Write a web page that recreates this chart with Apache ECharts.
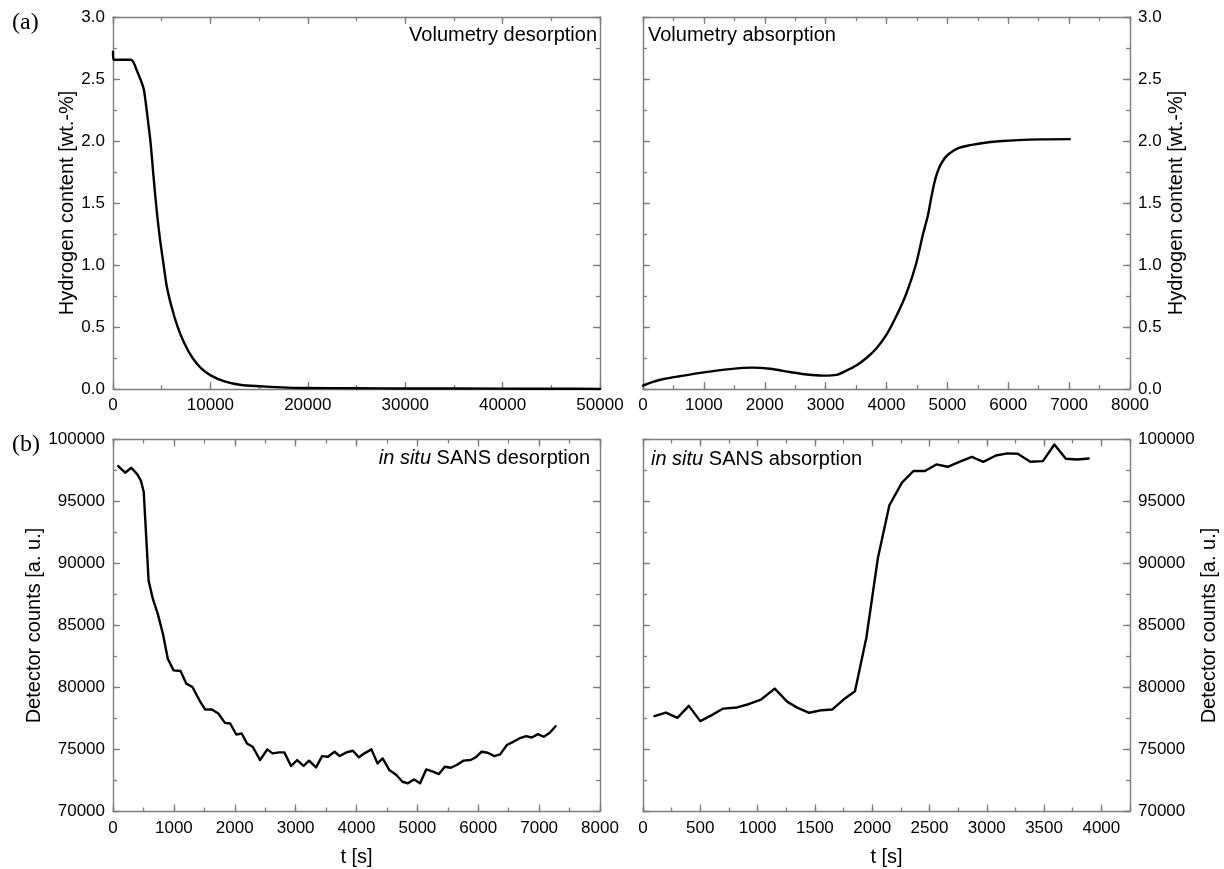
<!DOCTYPE html>
<html>
<head>
<meta charset="utf-8">
<script src="https://cdn.jsdelivr.net/npm/echarts@6/dist/echarts.min.js"></script>
<style>
  html, body { margin: 0; padding: 0; background: #fff; }
  #chart { width: 1224px; height: 869px; }
</style>
</head>
<body>
<div id="chart"></div>
<script>
// ---- (a) volumetric hydrogen content, desorption (t in s, wt.-%)
const volDesT = [0, 40, 500, 1000, 1500, 1860, 2140, 2480, 2900, 3170, 3410, 3620, 3860, 4070, 4280, 4550, 4830, 5170, 5520, 6000, 6620, 7310, 8170, 9030, 10070, 11450, 13170, 15070, 17310, 19380, 25000, 30000, 40000, 45000, 50000];
const volDesH = [2.72, 2.655, 2.655, 2.655, 2.655, 2.655, 2.629, 2.562, 2.481, 2.414, 2.28, 2.145, 1.984, 1.796, 1.608, 1.392, 1.204, 1.016, 0.828, 0.667, 0.505, 0.371, 0.25, 0.169, 0.108, 0.062, 0.032, 0.022, 0.013, 0.008, 0.006, 0.004, 0.003, 0.002, 0.001];

// ---- (a) volumetric hydrogen content, absorption
const volAbsT = [0, 150, 340, 600, 1000, 1430, 1790, 2090, 2410, 2690, 2960, 3180, 3340, 3510, 3670, 3840, 4000, 4160, 4330, 4490, 4600, 4680, 4730, 4780, 4830, 4900, 5000, 5190, 5510, 5900, 6540, 7010];
const volAbsH = [0.027, 0.055, 0.081, 0.103, 0.134, 0.160, 0.172, 0.163, 0.137, 0.117, 0.108, 0.114, 0.148, 0.192, 0.25, 0.331, 0.438, 0.586, 0.774, 1.016, 1.25, 1.40, 1.53, 1.65, 1.74, 1.82, 1.885, 1.945, 1.978, 2.0, 2.013, 2.015];

// ---- (b) in situ SANS detector counts, desorption
const sansDesT = [85, 200, 300, 400, 460, 505, 585, 655, 735, 820, 900, 995, 1110, 1205, 1305, 1420, 1515, 1625, 1730, 1840, 1925, 2025, 2115, 2200, 2295, 2415, 2535, 2620, 2730, 2815, 2925, 3025, 3130, 3220, 3335, 3435, 3530, 3640, 3725, 3835, 3940, 4040, 4130, 4245, 4345, 4430, 4540, 4655, 4755, 4845, 4945, 5045, 5145, 5255, 5355, 5450, 5550, 5645, 5755, 5875, 5960, 6055, 6155, 6265, 6360, 6470, 6575, 6675, 6785, 6880, 6980, 7075, 7175, 7270];
const sansDesC = [97860, 97320, 97720, 97190, 96650, 95770, 88620, 87140, 85940, 84330, 82320, 81380, 81330, 80310, 80040, 78970, 78220, 78220, 77900, 77150, 77100, 76210, 76290, 75490, 75220, 74150, 75010, 74690, 74770, 74770, 73670, 74150, 73670, 74100, 73560, 74470, 74420, 74820, 74470, 74770, 74900, 74370, 74690, 75010, 73880, 74280, 73340, 72940, 72400, 72270, 72590, 72270, 73390, 73210, 73020, 73610, 73530, 73750, 74100, 74150, 74370, 74820, 74740, 74470, 74610, 75360, 75620, 75890, 76080, 75970, 76240, 76030, 76350, 76880];

// ---- (b) in situ SANS detector counts, absorption
const sansAbsT = [100, 200, 300, 400, 500, 600, 700, 820, 920, 1030, 1150, 1260, 1350, 1450, 1560, 1650, 1750, 1850, 1950, 2050, 2150, 2260, 2360, 2460, 2560, 2660, 2760, 2870, 2970, 3080, 3180, 3270, 3380, 3490, 3590, 3690, 3790, 3890];
const sansAbsC = [77690, 77980, 77550, 78520, 77290, 77770, 78300, 78390, 78650, 79030, 79910, 78840, 78360, 77960, 78170, 78220, 79030, 79700, 84060, 90440, 94700, 96520, 97460, 97460, 97990, 97800, 98200, 98600, 98200, 98710, 98880, 98850, 98200, 98260, 99600, 98450, 98390, 98470];

// ---- tick labels
const volDesXTicks = [0, 10000, 20000, 30000, 40000, 50000];
const volAbsXTicks = [0, 1000, 2000, 3000, 4000, 5000, 6000, 7000, 8000];
const sansDesXTicks = [0, 1000, 2000, 3000, 4000, 5000, 6000, 7000, 8000];
const sansAbsXTicks = [0, 500, 1000, 1500, 2000, 2500, 3000, 3500, 4000];
const hydrogenTicks = [0.0, 0.5, 1.0, 1.5, 2.0, 2.5, 3.0];
const countTicks = [70000, 75000, 80000, 85000, 90000, 95000, 100000];

// axis ranges (the SANS absorption time axis runs past its last label)
const volDesXRange = [0, 50000];
const volAbsXRange = [0, 8000];
const sansDesXRange = [0, 8000];
const sansAbsXRange = [0, 4250];
const hydrogenRange = [0, 3];
const countRange = [70000, 100000];

const FONT = '"Liberation Sans", Arial, Helvetica, sans-serif';
const FRAME = '#7d7d7d';
const INK = '#000';

const panels = [
  { grid: { left: 113, top: 17, width: 487, height: 372 },
    xT: volDesXTicks, xR: volDesXRange, yT: hydrogenTicks, yR: hydrogenRange,
    side: 'left', yName: 'Hydrogen content [wt.-%]', yGap: 35, xName: null, dec: 1,
    t: volDesT, v: volDesH, smooth: true },
  { grid: { left: 643, top: 17, width: 487, height: 372 },
    xT: volAbsXTicks, xR: volAbsXRange, yT: hydrogenTicks, yR: hydrogenRange,
    side: 'right', yName: 'Hydrogen content [wt.-%]', yGap: 36, xName: null, dec: 1,
    t: volAbsT, v: volAbsH, smooth: true },
  { grid: { left: 113, top: 439.5, width: 487, height: 372 },
    xT: sansDesXTicks, xR: sansDesXRange, yT: countTicks, yR: countRange,
    side: 'left', yName: 'Detector counts [a. u.]', yGap: 68, xName: 't [s]', dec: 0,
    t: sansDesT, v: sansDesC, smooth: false },
  { grid: { left: 643, top: 439.5, width: 487, height: 372 },
    xT: sansAbsXTicks, xR: sansAbsXRange, yT: countTicks, yR: countRange,
    side: 'right', yName: 'Detector counts [a. u.]', yGap: 69, xName: 't [s]', dec: 0,
    t: sansAbsT, v: sansAbsC, smooth: false }
];

function isTick(ticks, v) {
  return ticks.some(function (k) { return Math.abs(k - v) < 1e-6; });
}

// one axis of a framed panel: major ticks (optionally labelled) or the minor-tick companion
function makeAxis(gi, position, range, ticks, opt) {
  const major = ticks[1] - ticks[0];
  const isMinor = !!opt.minor;
  return {
    type: 'value',
    gridIndex: gi,
    position: position,
    min: range[0],
    max: range[1],
    interval: isMinor ? major / 2 : major,
    scale: true,
    splitLine: { show: false },
    axisLine: { show: !isMinor, onZero: false, lineStyle: { color: FRAME, width: 1.4 } },
    axisTick: { show: true, inside: true, length: isMinor ? 4 : 7,
                lineStyle: { color: FRAME, width: 1.3 } },
    minorTick: { show: false },
    axisLabel: {
      show: !!opt.labels,
      margin: 8,
      color: INK,
      fontFamily: FONT,
      fontSize: 17,
      showMinLabel: true,
      showMaxLabel: true,
      hideOverlap: false,
      formatter: function (val) {
        if (!isTick(ticks, val)) return '';
        return opt.dec ? val.toFixed(opt.dec) : String(Math.round(val));
      }
    },
    name: opt.name || '',
    nameLocation: 'middle',
    nameGap: opt.nameGap || 0,
    nameRotate: opt.nameRotate,
    nameTextStyle: { color: INK, fontFamily: FONT, fontSize: 20 },
    silent: true,
    z: 3
  };
}

const grids = [], xAxes = [], yAxes = [], series = [];
panels.forEach(function (p, gi) {
  grids.push(Object.assign({ show: false }, p.grid));
  const xMain = xAxes.length;
  xAxes.push(makeAxis(gi, 'bottom', p.xR, p.xT,
    { labels: true, dec: 0, name: p.xName, nameGap: 36 }));
  xAxes.push(makeAxis(gi, 'bottom', p.xR, p.xT, { minor: true }));
  xAxes.push(makeAxis(gi, 'top', p.xR, p.xT, {}));
  xAxes.push(makeAxis(gi, 'top', p.xR, p.xT, { minor: true }));

  const other = p.side === 'left' ? 'right' : 'left';
  const yMain = yAxes.length;
  yAxes.push(makeAxis(gi, p.side, p.yR, p.yT,
    { labels: true, dec: p.dec, name: p.yName, nameGap: p.yGap, nameRotate: 90 }));
  yAxes.push(makeAxis(gi, p.side, p.yR, p.yT, { minor: true }));
  yAxes.push(makeAxis(gi, other, p.yR, p.yT, {}));
  yAxes.push(makeAxis(gi, other, p.yR, p.yT, { minor: true }));

  series.push({
    type: 'line',
    xAxisIndex: xMain,
    yAxisIndex: yMain,
    data: p.t.map(function (t, i) { return [t, p.v[i]]; }),
    showSymbol: false,
    smooth: p.smooth ? 0.25 : false,
    lineStyle: { color: INK, width: 2.4, join: 'round', cap: 'round' },
    silent: true,
    z: 5
  });
});

function label(x, y, text, align, extra) {
  return {
    type: 'text', x: x, y: y, silent: true, z: 10,
    style: Object.assign({
      text: text, align: align, verticalAlign: 'middle',
      fill: INK, font: '20px ' + FONT,
      rich: { i: { fontStyle: 'italic', fontSize: 20, fontFamily: FONT, fill: INK } }
    }, extra || {})
  };
}

const graphics = [
  label(12, 23, '(a)', 'left', { font: '24px "Liberation Serif", "Times New Roman", serif' }),
  label(12, 445, '(b)', 'left', { font: '24px "Liberation Serif", "Times New Roman", serif' }),
  label(597, 35, 'Volumetry desorption', 'right'),
  label(648, 35, 'Volumetry absorption', 'left'),
  label(590, 458, '{i|in situ} SANS desorption', 'right'),
  label(651, 459, '{i|in situ} SANS absorption', 'left')
];

const chart = echarts.init(document.getElementById('chart'), null, { renderer: 'canvas' });
chart.setOption({
  backgroundColor: '#fff',
  animation: false,
  grid: grids,
  xAxis: xAxes,
  yAxis: yAxes,
  series: series,
  graphic: graphics
});
</script>
</body>
</html>
